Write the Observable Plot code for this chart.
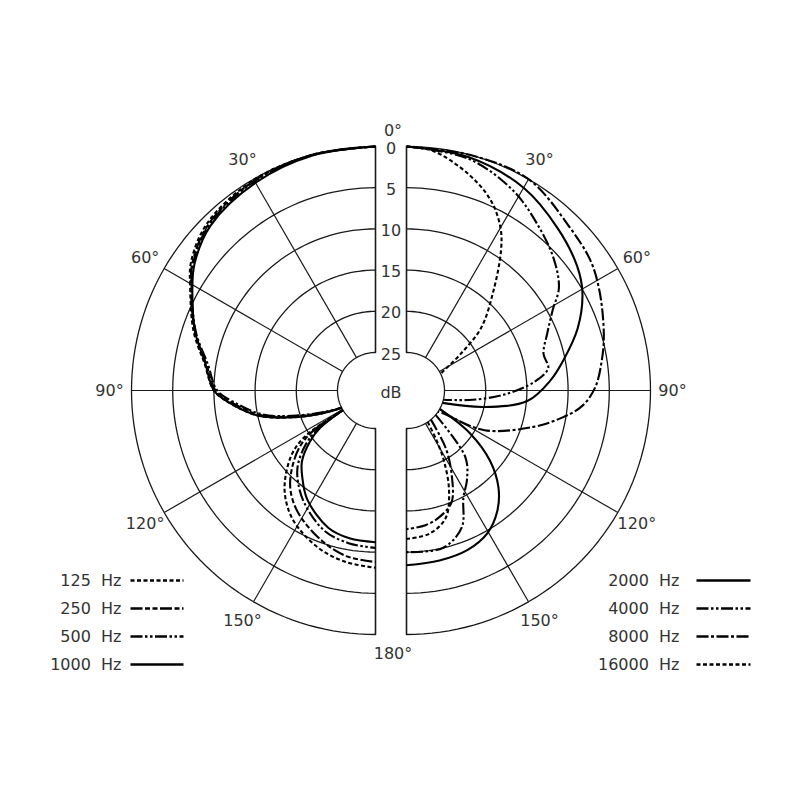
<!DOCTYPE html>
<html><head><meta charset="utf-8">
<script src="https://cdn.jsdelivr.net/npm/d3@7"></script>
<script src="https://cdn.jsdelivr.net/npm/@observablehq/plot@0.6"></script>
<style>body{margin:0;background:#fff}</style>
</head><body><div id="chart"></div>
<script>
// ---- tick labels & categories ----
const dbTicks = [0, 5, 10, 15, 20, 25];
const angleTicks = [30, 60, 90, 120, 150];
const angleLabels = ["30°", "60°", "90°", "120°", "150°"];
const leftFreqs = ["125 Hz", "250 Hz", "500 Hz", "1000 Hz"];
const rightFreqs = ["2000 Hz", "4000 Hz", "8000 Hz", "16000 Hz"];

// ---- series: angle (deg) and attenuation (dB); null separates front and rear lobe ----
const ang125 = [0, 15, 30, 45, 55, 61, 72, 81, 90, 95, 102, 107, 113, 117, null, 121, 123, 127, 134, 140, 148, 160, 170, 180];
const db125  = [0, 0, 0.1, 0.8, 2.3, 3.9, 6.4, 8.6, 10, 11.9, 15, 18.4, 22.4, 25, null, 25, 19.5, 17, 14.4, 12.6, 10.9, 9.3, 8.5, 8.1];
const ang250 = [0, 15, 30, 45, 55, 61, 72, 81, 90, 95, 102, 107, 113, 117, null, 121, 123, 127, 134, 140, 148, 160, 170, 180];
const db250  = [0, 0, 0.2, 1.0, 2.5, 4.0, 6.6, 8.8, 10.2, 12.2, 15.3, 18.8, 22.8, 25, null, 25, 20.5, 18, 15.4, 13.6, 12, 10.3, 9.2, 8.8];
const ang500 = [0, 15, 30, 45, 55, 61, 72, 81, 90, 95, 102, 107, 113, 117, null, 121, 124, 128, 134, 140, 148, 160, 170, 180];
const db500  = [0, 0, 0.3, 1.1, 2.6, 4.1, 6.7, 9.0, 10.4, 12.5, 15.6, 19.1, 23, 25, null, 25, 21, 18.8, 16.5, 15, 13.4, 11.5, 10.8, 10.5];
const ang1000 = [0, 15, 30, 45, 55, 61, 72, 81, 90, 95, 102, 107, 113, 117, null, 121, 124, 128, 134, 140, 148, 161, 170, 180];
const db1000  = [0, 0.1, 0.5, 1.3, 2.8, 4.2, 6.6, 8.7, 10, 11.9, 15, 18.4, 22.5, 25, null, 25, 21.5, 19.5, 17.2, 15.8, 14, 12, 11.4, 11.2];

const ang2000 = [0, 15, 30, 43, 54, 61, 70, 79, 86, 95, 102, 109, null, 119, 124, 130, 136.5, 143, 150.5, 159, 169, 180];
const db2000  = [0, 0.3, 1.2, 2.7, 4, 5.2, 7.5, 10.2, 12.1, 14.9, 20, 25, null, 25, 20.3, 16.4, 13.4, 11.3, 9.7, 8.9, 8.6, 8.4];
const ang4000 = [0, 15, 28, 38, 48, 56, 61, 68, 75, 81, 86, 92, 98, 104, null, 130, 138.6, 146, 152, 158, 167, 180];
const db4000  = [0, 0.5, 2.1, 3.9, 5.6, 7.3, 9.3, 11.2, 12.4, 12.2, 14, 17.5, 21.5, 25, null, 25, 18.8, 16.5, 14.9, 11.7, 10, 10];
const ang8000 = [0, 15, 30, 45, 55, 63, 74, 81, 89, 95, 100, 106, 117, 122, 124, null, 140, 146, 152, 158, 165, 172, 180];
const db8000  = [0, 0, 0, 1.6, 2.3, 3.3, 4.7, 5.6, 6.7, 8.2, 10.5, 13.6, 19, 24.4, 25, null, 25, 21, 17.9, 15, 13.8, 13.1, 12.8];
const ang16000 = [0, 6, 16, 24, 30, 34, 41, 50, 56, 62, 64, null, 146, 149, 152, 157, 163, 171, 180];
const db16000  = [0, 0.3, 2.3, 4.4, 6.8, 9.1, 13.5, 17.8, 21.7, 24.5, 25, null, 25, 22.5, 19.9, 16.4, 13.4, 12, 11.6];

// ---- layout (pixel-unit chart space) ----
const W = 800, H = 800;
const CY = 390, CXL = 375, CXR = 406, R0 = 244, R25 = 38, LABEL_R = 266;
const rad = db => R0 - (R0 - R25) * db / 25;
const px = (side, a, r) => (side === "L" ? CXL - r * Math.sin(a * Math.PI / 180) : CXR + r * Math.sin(a * Math.PI / 180));
const py = (a, r) => CY - r * Math.cos(a * Math.PI / 180);

const series = [
  {name: "125 Hz", side: "L", ang: ang125, db: db125, dash: "4,2.5"},
  {name: "250 Hz", side: "L", ang: ang250, db: db250, dash: "12,2.5,5,2.5,5,2.5"},
  {name: "500 Hz", side: "L", ang: ang500, db: db500, dash: "12,2.5,2.5,2.5,2.5,2.5"},
  {name: "1000 Hz", side: "L", ang: ang1000, db: db1000, dash: null},
  {name: "2000 Hz", side: "R", ang: ang2000, db: db2000, dash: null},
  {name: "4000 Hz", side: "R", ang: ang4000, db: db4000, dash: "12,2.5,2.5,2.5,2.5,2.5"},
  {name: "8000 Hz", side: "R", ang: ang8000, db: db8000, dash: "12,2.5,3,2.5"},
  {name: "16000 Hz", side: "R", ang: ang16000, db: db16000, dash: "4,2.5"}
];

// grid rings
const arcAngles = d3.range(0, 180.5, 2);
const rings = [];
for (const side of ["L", "R"]) for (const d of dbTicks) for (const a of arcAngles)
  rings.push({side, d, a, key: side + d});
const spokes = [];
for (const side of ["L", "R"]) for (const a of [0, ...angleTicks, 180])
  spokes.push({side, a});

const marks = [];
// rings
marks.push(Plot.line(rings, {
  x: r => px(r.side, r.a, rad(r.d)), y: r => py(r.a, rad(r.d)), z: "key",
  stroke: "#1a1a1a", strokeWidth: 1.3
}));
// spokes
marks.push(Plot.link(spokes, {
  x1: s => px(s.side, s.a, R25), y1: s => py(s.a, R25),
  x2: s => px(s.side, s.a, R0), y2: s => py(s.a, R0),
  stroke: "#1a1a1a", strokeWidth: s => (s.a === 0 || s.a === 180) ? 1.6 : 1.2
}));
// curves
for (const s of series) {
  const pts = s.ang.map((a, i) => ({a, d: s.db[i]}));
  marks.push(Plot.line(pts, {
    x: p => p.a == null ? NaN : px(s.side, p.a, rad(p.d)),
    y: p => p.a == null ? NaN : py(p.a, rad(p.d)),
    curve: "catmull-rom", stroke: "#000", strokeWidth: 2.1,
    strokeDasharray: s.dash || undefined, strokeLinecap: "butt"
  }));
}
const font = {fontFamily: "DejaVu Sans", fontSize: 16, fill: "#333"};
// dB tick labels
marks.push(Plot.text(dbTicks, {x: () => (CXL + CXR) / 2, y: d => CY - rad(d) + 2, text: d => String(d), ...font}));
marks.push(Plot.text(["dB"], {x: () => (CXL + CXR) / 2, y: () => CY + 2, text: d => d, ...font}));
// angle labels
const angRows = [];
angleTicks.forEach((a, i) => { angRows.push({side: "L", a, t: angleLabels[i]}); angRows.push({side: "R", a, t: angleLabels[i]}); });
marks.push(Plot.text(angRows, {x: r => px(r.side, r.a, LABEL_R), y: r => py(r.a, LABEL_R), text: "t", ...font}));
marks.push(Plot.text(["0°", "180°"], {x: () => (CXL + CXR) / 2 + 2, y: (d, i) => i === 0 ? CY - R0 - 16 : CY + R0 + 19, text: d => d, ...font}));
// legends
const legRows = [];
leftFreqs.forEach((f, i) => legRows.push({f, side: "L", i}));
rightFreqs.forEach((f, i) => legRows.push({f, side: "R", i}));
const legY = r => 580 + r.i * 28;
marks.push(Plot.text(legRows, {
  x: r => r.side === "L" ? 121 : 679, y: legY, text: r => r.f.replace(" ", "\u00a0\u00a0"),
  textAnchor: "end", ...font
}));
for (const s of series) {
  const row = legRows.find(r => r.f === s.name);
  marks.push(Plot.link([row], {
    x1: r => r.side === "L" ? 130 : 696, x2: r => r.side === "L" ? 183 : 750,
    y1: legY, y2: legY, stroke: "#000", strokeWidth: 2.6,
    strokeDasharray: s.dash || undefined
  }));
}

const chart = Plot.plot({
  width: W, height: H, margin: 0,
  x: {domain: [0, W], range: [0, W], axis: null},
  y: {domain: [0, H], range: [0, H], axis: null},
  style: {background: "#fff"},
  marks
});
document.getElementById("chart").appendChild(chart);
</script>
</body></html>
